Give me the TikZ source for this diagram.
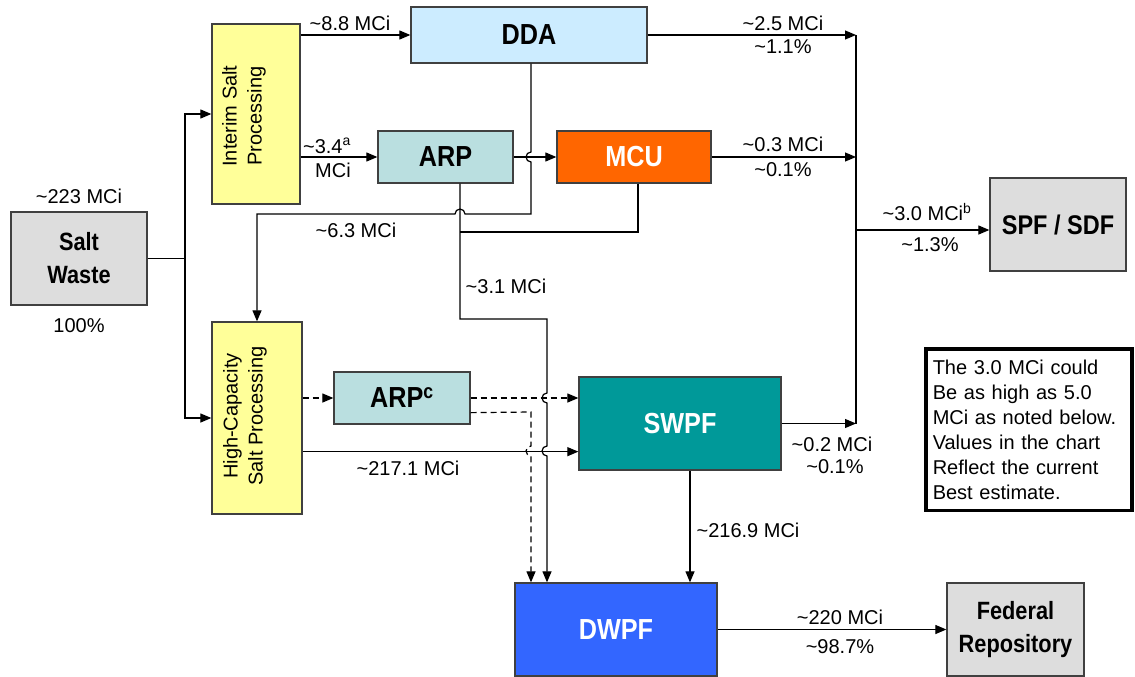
\documentclass[tikz,border=0pt]{standalone}
\usepackage{fontspec}
\setmainfont{Liberation Sans}
\newfontfamily\boxfont[FakeStretch=0.87]{Liberation Sans}
\usetikzlibrary{arrows.meta,calc}
\definecolor{saltgray}{HTML}{DDDDDD}
\definecolor{procyellow}{HTML}{FFFF99}
\definecolor{ddablue}{HTML}{CCECFF}
\definecolor{arpteal}{HTML}{BADFE0}
\definecolor{mcuorange}{HTML}{FF6600}
\definecolor{swpfteal}{HTML}{009999}
\definecolor{dwpfblue}{HTML}{3366FF}
\newcommand\app{\textasciitilde}

\begin{document}
\begin{tikzpicture}[x=1pt,y=-1pt,line width=1.2pt,
    >={Triangle[length=11pt,width=9pt]},
    every node/.style={inner sep=0pt,font=\fontsize{20}{24}\selectfont},
    blk/.style args={#1/#2}{draw=black!75,line width=1.3pt,minimum width=#1,minimum height=#2},
    title/.style={font=\boxfont\bfseries\fontsize{29}{33}\selectfont},
    subtitle/.style={font=\boxfont\bfseries\fontsize{25}{33}\selectfont,align=center},
    rot/.style={rotate=90,align=center,font=\fontsize{20}{25}\selectfont},
    dashline/.style={dash pattern=on 6pt off 4pt}]
  \useasboundingbox (0,0) rectangle (1135,677);
  % boxes
  \node[blk={136pt/93pt},fill=saltgray,subtitle] (salt) at (79,258.5) {Salt\\Waste};
  \node[blk={88pt/180pt},fill=procyellow] (isp) at (256,114) {};
  \node[rot] (isptext) at ([xshift=-12pt,yshift=-2pt]isp.center) {Interim Salt\\Processing};
  \node[blk={90pt/192pt},fill=procyellow] (hcsp) at (257,418) {};
  \node[rot] (hcsptext) at ([xshift=-12pt,yshift=2pt]hcsp.center) {High-Capacity\\Salt Processing};
  \node[blk={236pt/56pt},fill=ddablue,title] (dda) at (529,35) {DDA};
  \node[blk={135pt/52pt},fill=arpteal,title] (arp) at (445.5,157) {ARP};
  \node[blk={154pt/52pt},fill=mcuorange,title,text=white] (mcu) at (634,157) {MCU};
  \node[blk={136pt/52pt},fill=arpteal,title] (arpc) at (402,398) {ARP\textsuperscript{c}};
  \node[blk={202pt/93pt},fill=swpfteal,title,text=white] (swpf) at (680,423.5) {SWPF};
  \node[blk={202pt/93pt},fill=dwpfblue,title,text=white] (dwpf) at (616,629.5) {DWPF};
  \node[blk={136pt/93pt},fill=saltgray,subtitle,font=\boxfont\bfseries\fontsize{27}{33}\selectfont] (spf) at (1058,224.5) {SPF / SDF};
  \node[blk={137pt/93pt},fill=saltgray,subtitle] (fed) at (1015.5,629.5) {Federal\\Repository};
  \node[draw,line width=3.5pt,anchor=north west,text width=192pt,inner xsep=7pt,inner ysep=11pt,
    align=left,font=\fontsize{20}{25}\selectfont] (note) at (924,347)
    {The 3.0 MCi could\\Be as high as 5.0\\MCi as noted below.\\Values in the chart\\Reflect the current\\Best estimate.};
  % helper points
  \coordinate (split) at (185,258.5);
  \coordinate (coll) at (856,36);
  \coordinate (ddadown) at ([xshift=2pt]dda.south);
  \coordinate (arpdown) at ([xshift=14.5pt]arp.south);
  \coordinate (mcudown) at ([xshift=4pt]mcu.south);
  \coordinate (hcout) at ([yshift=19pt]swpf.south west);
  \coordinate (arpcout) at ([yshift=12pt]arpc.south east);
  \coordinate (spfin) at ([yshift=-5.5pt]spf.west);
  \coordinate (swpfdown) at ([xshift=10pt]swpf.south);
  % connectors
  \draw[<->] (isp.west) -| (split) |- (hcsp.west);
  \draw (salt.east) -- (split);
  \draw[->] (isp.east |- dda.west) -- (dda.west);
  \draw[->] (isp.east |- arp.west) -- (arp.west);
  \draw[->] (arp.east) -- (mcu.west);
  \draw[->] (ddadown) -- (531,152) arc[start angle=90,end angle=270,radius=5pt]
    -- (531,214) -- (465,214) arc[start angle=0,end angle=180,radius=5pt] -| (hcsp.north);
  \draw (mcudown) |- (460,232);
  \draw[->] (arpdown) -- (460,319) -- (547,319) -- (547,393) arc[start angle=90,end angle=270,radius=5pt]
    -- (547,446) arc[start angle=90,end angle=270,radius=5pt] -- (547,456) -- (dwpf.north -| 547,456);
  \draw[->,dashline] (hcsp.east |- arpc.west) -- (arpc.west);
  \draw[->,dashline] (arpc.east) -- (arpc.east -| swpf.west);
  \draw[->,dashline] (arpcout) -- (531,412) -- (531,446) arc[start angle=90,end angle=270,radius=5pt]
    -- (531,456) -- (dwpf.north -| 531,456);
  \draw[->] (hcsp.east |- hcout) -- (hcout);
  \draw (dda.east -| coll) -- (swpf.east -| coll);
  \draw[->] (dda.east) -- (dda.east -| coll);
  \draw[->] (mcu.east) -- (mcu.east -| coll);
  \draw[->] (swpf.east) -- (swpf.east -| coll);
  \draw[->] (spfin -| coll) -- (spfin);
  \draw[->] (swpfdown) -- (swpfdown |- dwpf.north);
  \draw[->] (dwpf.east) -- (fed.west);
  % flow labels
  \node (lsalt) at (79,196) {\app223 MCi};
  \node (lpct) at (79,326) {100\%};
  \node (ldda) at (350,23) {\app8.8 MCi};
  \node (larp) at (327,146) {\app3.4\textsuperscript{a}};
  \node (larpb) at (333,170) {MCi};
  \node (lhc) at (356,230) {\app6.3 MCi};
  \node (ldwa) at (506,286) {\app3.1 MCi};
  \node (lswpf) at (408,468) {\app217.1 MCi};
  \node (lddaout) at (783,23) {\app2.5 MCi};
  \node (lddapct) at (783,47) {\app1.1\%};
  \node (lmcuout) at (783,144) {\app0.3 MCi};
  \node (lmcupct) at (783,170) {\app0.1\%};
  \node (lspf) at (927,212) {\app3.0 MCi\textsuperscript{b}};
  \node (lspfpct) at (930,245) {\app1.3\%};
  \node (lswout) at (832,444) {\app0.2 MCi};
  \node (lswpct) at (835,467) {\app0.1\%};
  \node (ldwpf) at (748,530) {\app216.9 MCi};
  \node (lfed) at (840,617) {\app220 MCi};
  \node (lfedpct) at (840,647) {\app98.7\%};
\end{tikzpicture}
\end{document}
